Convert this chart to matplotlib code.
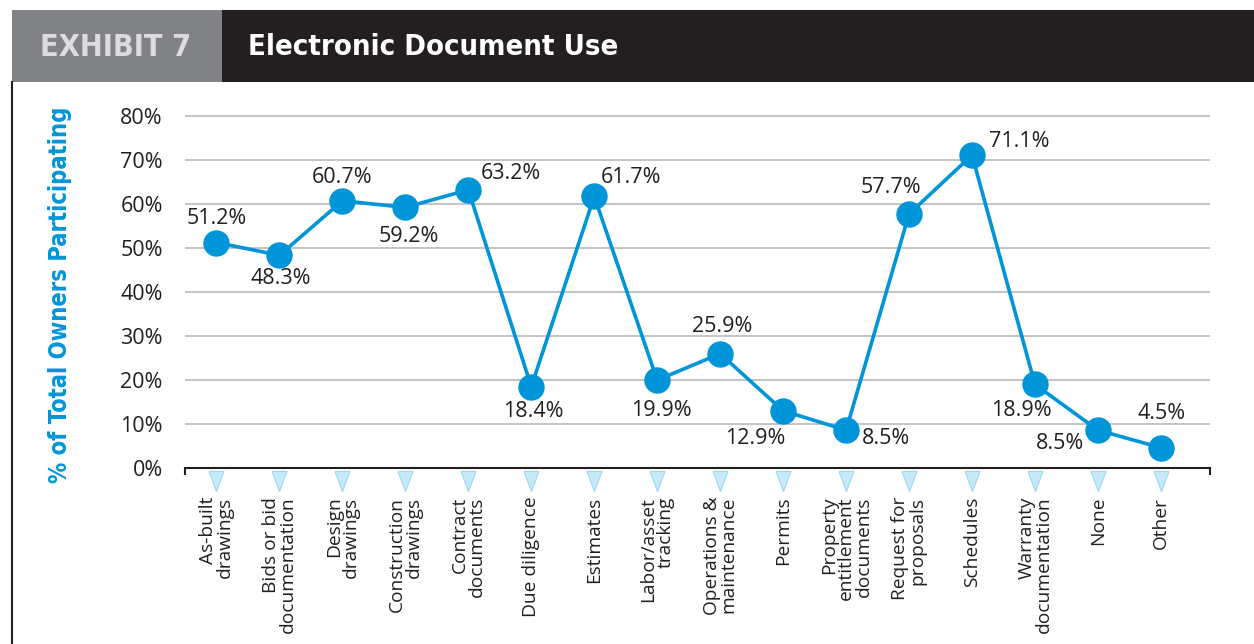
import numpy as np
import matplotlib
matplotlib.use('Agg')
import matplotlib.pyplot as plt
from matplotlib.patches import Rectangle
from matplotlib.lines import Line2D
from matplotlib.path import Path
from matplotlib.transforms import offset_copy

#------------------------ DATA
categories = ['As-built\ndrawings', 'Bids or bid\ndocumentation', 'Design\ndrawings',
              'Construction\ndrawings', 'Contract\ndocuments', 'Due diligence', 'Estimates',
              'Labor/asset\ntracking', 'Operations &\nmaintenance', 'Permits',
              'Property\nentitlement\ndocuments', 'Request for\nproposals', 'Schedules',
              'Warranty\ndocumentation', 'None', 'Other']
values = [51.2, 48.3, 60.7, 59.2, 63.2, 18.4, 61.7, 19.9, 25.9, 12.9, 8.5, 57.7, 71.1, 18.9, 8.5, 4.5]
yticks = [0, 10, 20, 30, 40, 50, 60, 70, 80]
ytick_labels = ['0%', '10%', '20%', '30%', '40%', '50%', '60%', '70%', '80%']

# where each value label sits relative to its point (pixels)
label_offsets = [(0, 24), (1, -23), (0, 23), (3, -29), (43, 16), (2, -25), (37, 19), (4, -30),
                 (2, 27), (-28, -28), (40, -8), (-18, 26), (47, 14), (-14, -26), (-38, -13), (1, 34)]

#------------------------ STYLE
W, H = 1254, 644
blue = '#0095d9'
light_blue = '#c6e9f8'
dark = '#231f20'
grid_col = '#b9b9b9'
txt_font = ['Open Sans', 'DejaVu Sans']
head_font = 'DejaVu Sans'

fig = plt.figure(figsize=(W / 100, H / 100), dpi=100)

# header band
fig.add_artist(Rectangle((12 / W, 1 - 82 / H), 210 / W, 72 / H, transform=fig.transFigure,
                         facecolor='#808285', edgecolor='none'))
fig.add_artist(Rectangle((222 / W, 1 - 82 / H), 1032 / W, 72 / H, transform=fig.transFigure,
                         facecolor=dark, edgecolor='none'))
fig.text(40 / W, 1 - 47 / H, 'EXHIBIT 7', color='#dcdcde', fontsize=22, fontweight='bold',
         family=head_font, fontstretch='condensed', ha='left', va='center')
fig.text(248 / W, 1 - 47 / H, 'Electronic Document Use', color='white', fontsize=21,
         fontweight='bold', family=head_font, fontstretch='condensed', ha='left', va='center')
fig.add_artist(Line2D([12 / W, 12 / W], [0, 1 - 82 / H], transform=fig.transFigure,
                      color=dark, lw=1.5))

#------------------------ AXES
pxu = 351.5 / 80.0
ymax = 82
ax = fig.add_axes([185 / W, (H - 467.5) / H, 1025 / W, ymax * pxu / H])
x = np.arange(len(categories))
ax.set_xlim(-0.5, 15.78)
ax.set_ylim(0, ymax)

for s in ['top', 'left', 'right']:
    ax.spines[s].set_visible(False)
ax.spines['bottom'].set_color(dark)
ax.spines['bottom'].set_linewidth(1.5)

ax.set_yticks(yticks)
ax.set_yticklabels(ytick_labels, fontsize=15.5, color=dark, family=txt_font)
ax.tick_params(axis='y', length=0, pad=16)
ax.yaxis.grid(True, color=grid_col, lw=1.2)
ax.set_axisbelow(True)

ax.set_xticks(x)
ax.set_xticklabels(categories, rotation=90, ha='center', va='top', multialignment='right',
                   fontsize=13.8, color=dark, family=txt_font, linespacing=0.95)
ax.tick_params(axis='x', which='major', length=0, pad=21)
ax.set_xticks([-0.5, 15.78], minor=True)
ax.tick_params(axis='x', which='minor', length=5, width=1.5, color=dark, direction='out')

# triangles under the axis
tri = Path([(-0.375, 0.5), (0.375, 0.5), (0, -0.5), (-0.375, 0.5)])
ax.plot(x, np.zeros(len(x)), linestyle='none', marker=tri, markersize=14.4,
        markerfacecolor=light_blue, markeredgecolor='#9ad8f2', markeredgewidth=0.8,
        transform=offset_copy(ax.transData, fig=fig, y=-13, units='dots'), clip_on=False)

# line
ax.plot(x, values, color=blue, lw=2.6, marker='o', markersize=18, markerfacecolor=blue,
        markeredgecolor=blue, clip_on=False, zorder=3)

for xi, v, off in zip(x, values, label_offsets):
    ax.annotate('{:.1f}%'.format(v), (xi, v), xytext=off, textcoords='offset pixels',
                ha='center', va='center', fontsize=15.5, color=dark, family=txt_font)

fig.text(60 / W, 1 - 295 / H, '% of Total Owners Participating', rotation=90, color=blue,
         fontsize=17, fontweight='bold', family=head_font, fontstretch='condensed',
         ha='center', va='center')

fig.savefig('out.png', dpi=100)
